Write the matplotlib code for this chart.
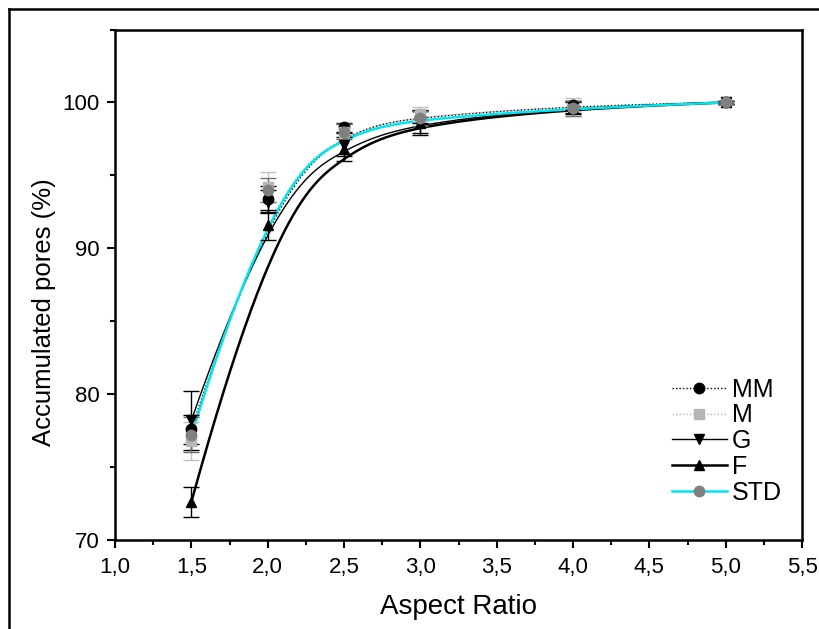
import numpy as np
import matplotlib
matplotlib.use("Agg")
import matplotlib.pyplot as plt
from matplotlib.lines import Line2D
from matplotlib.ticker import MultipleLocator, FuncFormatter

plt.rcParams['font.family'] = ['Liberation Sans', 'DejaVu Sans']

aspect_ratio = [1.5, 2.0, 2.5, 3.0, 4.0, 5.0]

mm_vals = [77.6, 93.4, 98.3, 99.0, 99.8, 100.0]
mm_err = [1.0, 0.9, 0.3, 0.4, 0.3, 0.1]
m_vals = [76.8, 94.2, 98.0, 99.2, 99.7, 100.0]
m_err = [1.3, 1.0, 0.5, 0.5, 0.6, 0.1]
g_vals = [78.2, 93.2, 97.1, 98.7, 99.7, 100.0]
g_err = [2.0, 0.8, 0.8, 0.8, 0.4, 0.1]
f_vals = [72.6, 91.6, 96.8, 98.6, 99.6, 100.0]
f_err = [1.05, 1.0, 0.8, 0.8, 0.4, 0.1]
std_vals = [77.2, 94.0, 98.0, 98.9, 99.6, 100.0]
std_err = [1.2, 0.8, 0.5, 0.5, 0.5, 0.1]

labels = ['MM', 'M', 'G', 'F', 'STD']
x_ticks = [1.0, 1.5, 2.0, 2.5, 3.0, 3.5, 4.0, 4.5, 5.0, 5.5]
y_ticks = [70, 80, 90, 100]


def bspline_connect(x, y, n=400, k=3):
    """Clamped B-spline that uses the data points as control points."""
    P = np.column_stack([x, y]).astype(float)
    m = len(P)
    inner = np.arange(1, m - k)
    knots = np.concatenate([np.zeros(k + 1), inner, np.full(k + 1, m - k)]).astype(float)
    t = np.linspace(0, m - k, n)
    t[-1] -= 1e-9
    # Cox-de Boor recursion
    N = np.zeros((n, len(knots) - 1))
    for i in range(len(knots) - 1):
        N[:, i] = (t >= knots[i]) & (t < knots[i + 1])
    for d in range(1, k + 1):
        Nn = np.zeros((n, len(knots) - 1 - d))
        for i in range(len(knots) - 1 - d):
            a = knots[i + d] - knots[i]
            b = knots[i + d + 1] - knots[i + 1]
            left = (t - knots[i]) / a * N[:, i] if a > 0 else 0.0
            right = (knots[i + d + 1] - t) / b * N[:, i + 1] if b > 0 else 0.0
            Nn[:, i] = left + right
        N = Nn
    C = N @ P
    return C[:, 0], C[:, 1]


series = [
    dict(v=mm_vals, e=mm_err, ls=(0, (1, 1.5)), lc='black', lw=1.0, mk='o', mc='black', ec='black'),
    dict(v=m_vals, e=m_err, ls=(0, (1, 1.5)), lc='#b5b5b5', lw=1.0, mk='s', mc='#b5b5b5', ec='#c0c0c0'),
    dict(v=g_vals, e=g_err, ls='-', lc='black', lw=1.0, mk='v', mc='black', ec='black'),
    dict(v=f_vals, e=f_err, ls='-', lc='black', lw=1.8, mk='^', mc='black', ec='black'),
    dict(v=std_vals, e=std_err, ls='-', lc='#00e5ee', lw=1.8, mk='o', mc='#808080', ec='#707070'),
]

fig = plt.figure(figsize=(8.19, 6.29), dpi=100)
ax = fig.add_axes([115 / 819, 89 / 629, 687 / 819, 510.5 / 629])

handles = []
for lab, s in zip(labels, series):
    cx, cy = bspline_connect(aspect_ratio, s['v'])
    ax.plot(cx, cy, linestyle=s['ls'], color=s['lc'], lw=s['lw'], zorder=2)
    ax.errorbar(aspect_ratio, s['v'], yerr=s['e'], fmt='none', ecolor=s['ec'],
                elinewidth=1.0, capsize=6, capthick=1.0, zorder=3)
    ax.plot(aspect_ratio, s['v'], linestyle='none', marker=s['mk'], color=s['mc'],
            markersize=7.5, zorder=4)
    handles.append(Line2D([], [], linestyle=s['ls'], color=s['lc'], lw=s['lw'],
                          marker=s['mk'], markerfacecolor=s['mc'], markeredgecolor=s['mc'],
                          markersize=7.5))

ax.set_xlim(1.0, 5.5)
ax.set_ylim(70, 105)
ax.set_xticks(x_ticks)
ax.set_yticks(y_ticks)
ax.xaxis.set_minor_locator(MultipleLocator(0.25))
ax.yaxis.set_minor_locator(MultipleLocator(5))
ax.xaxis.set_major_formatter(FuncFormatter(lambda v, p: f"{v:.1f}".replace('.', ',')))
ax.yaxis.set_major_formatter(FuncFormatter(lambda v, p: f"{v:.0f}"))
ax.tick_params(which='major', direction='out', length=6, width=1.5, labelsize=16, pad=5)
ax.tick_params(axis='x', which='major', pad=6)
ax.tick_params(which='minor', direction='out', length=3.5, width=1.5)
ax.tick_params(top=False, right=False)
for sp in ax.spines.values():
    sp.set_linewidth(1.8)

ax.set_xlabel('Aspect Ratio', fontsize=20, labelpad=12)
ax.set_ylabel('Accumulated pores (%)', fontsize=18.5)
ax.yaxis.set_label_coords(-0.086, 0.447)

leg = ax.legend(handles, labels, loc='lower right', bbox_to_anchor=(1.003, 0.025),
                frameon=False, fontsize=18, handlelength=2.2, handletextpad=0.2,
                labelspacing=0.07)

# page frame around the figure
fig.add_artist(Line2D([9 / 819, 9 / 819], [0, 1 - 9 / 629], color='black', lw=1.8,
                      transform=fig.transFigure))
fig.add_artist(Line2D([9 / 819, 1], [1 - 9 / 629, 1 - 9 / 629], color='black', lw=1.8,
                      transform=fig.transFigure))

fig.savefig('out.png', dpi=100)
